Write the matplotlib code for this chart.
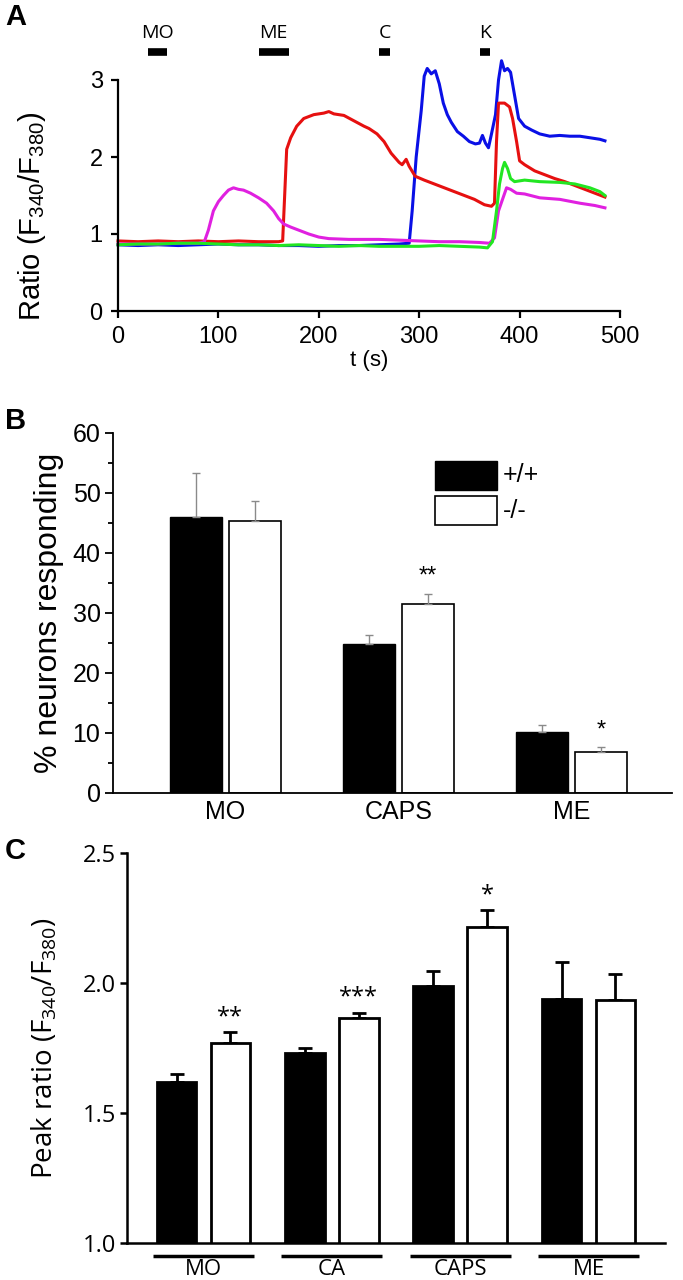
import matplotlib
matplotlib.use("Agg")
import matplotlib.pyplot as plt
from matplotlib.patches import Rectangle
import matplotlib.transforms as mtransforms
import numpy as np

# ---------------- Data ----------------
# Panel A: calcium imaging traces (time s, ratio)
red_t = [0, 20, 40, 60, 80, 100, 120, 140, 160, 164, 166, 168, 172, 178, 185, 195, 205, 210, 215, 225,
         235, 245, 250, 258, 265, 272, 280, 283, 287, 290, 296, 305, 315, 325, 335, 345, 355, 365, 372,
         375, 377, 379, 385, 390, 393, 397, 400, 405, 415, 425, 435, 445, 455, 465, 475, 485]
red_v = [0.91, 0.90, 0.91, 0.90, 0.91, 0.90, 0.91, 0.90, 0.90, 0.91, 1.5, 2.1, 2.25, 2.4, 2.5, 2.55, 2.57,
         2.59, 2.56, 2.54, 2.47, 2.4, 2.37, 2.3, 2.2, 2.05, 1.93, 1.9, 1.97, 1.88, 1.75, 1.7, 1.65, 1.6,
         1.55, 1.5, 1.45, 1.38, 1.36, 1.4, 2.2, 2.7, 2.7, 2.65, 2.5, 2.2, 1.95, 1.9, 1.82, 1.77, 1.72,
         1.68, 1.63, 1.58, 1.53, 1.48]

blue_t = [0, 20, 40, 60, 80, 100, 120, 140, 160, 180, 200, 220, 240, 260, 280, 290, 293, 297, 302, 305,
          308, 312, 316, 320, 324, 328, 332, 338, 344, 350, 356, 360, 363, 366, 369, 372, 376, 379, 382,
          385, 388, 391, 395, 399, 405, 412, 420, 430, 440, 450, 460, 470, 480, 485]
blue_v = [0.86, 0.85, 0.86, 0.85, 0.86, 0.87, 0.86, 0.86, 0.85, 0.85, 0.84, 0.85, 0.85, 0.86, 0.87, 0.88,
          1.3, 2.0, 2.6, 3.05, 3.15, 3.08, 3.12, 2.95, 2.7, 2.55, 2.45, 2.33, 2.27, 2.2, 2.17, 2.18, 2.28,
          2.18, 2.12, 2.3, 2.55, 3.0, 3.25, 3.12, 3.15, 3.1, 2.8, 2.5, 2.4, 2.35, 2.3, 2.27, 2.28, 2.27,
          2.27, 2.25, 2.23, 2.21]

mag_t = [0, 20, 40, 60, 80, 86, 90, 95, 100, 105, 110, 115, 120, 125, 132, 140, 148, 155, 160, 165, 172,
         180, 190, 200, 210, 230, 260, 280, 300, 320, 340, 360, 370, 375, 379, 383, 387, 391, 397, 405,
         420, 440, 460, 475, 485]
mag_v = [0.87, 0.87, 0.87, 0.88, 0.88, 0.9, 1.05, 1.3, 1.42, 1.5, 1.57, 1.6, 1.58, 1.57, 1.53, 1.47, 1.4,
         1.3, 1.2, 1.13, 1.09, 1.05, 1.0, 0.96, 0.94, 0.93, 0.93, 0.92, 0.91, 0.9, 0.9, 0.89, 0.88, 0.95,
         1.3, 1.45, 1.6, 1.58, 1.53, 1.52, 1.47, 1.45, 1.4, 1.37, 1.34]

green_t = [0, 20, 40, 60, 80, 100, 120, 140, 160, 180, 200, 220, 240, 260, 280, 300, 320, 340, 360, 368,
           373, 377, 380, 383, 385, 388, 391, 395, 405, 420, 440, 455, 470, 480, 485]
green_v = [0.86, 0.87, 0.87, 0.88, 0.88, 0.87, 0.86, 0.86, 0.85, 0.86, 0.85, 0.84, 0.85, 0.84, 0.84, 0.84,
           0.85, 0.84, 0.83, 0.82, 0.9, 1.3, 1.65, 1.85, 1.93, 1.85, 1.72, 1.68, 1.7, 1.68, 1.67, 1.65,
           1.6, 1.55, 1.5]

stim_labels = ["MO", "ME", "C", "K"]
stim_start = [30, 140, 260, 361]
stim_end = [49, 170, 271, 371]

# Panel B: % neurons responding
b_categories = ["MO", "CAPS", "ME"]
b_wt = [46.0, 24.8, 10.1]
b_wt_err = [7.3, 1.6, 1.3]
b_ko = [45.3, 31.5, 6.8]
b_ko_err = [3.4, 1.7, 0.8]
b_sig = ["", "**", "*"]

# Panel C: peak ratio
c_categories = ["MO", "CA", "CAPS", "ME"]
c_wt = [1.62, 1.73, 1.99, 1.94]
c_wt_err = [0.03, 0.02, 0.055, 0.14]
c_ko = [1.77, 1.865, 2.215, 1.935]
c_ko_err = [0.04, 0.02, 0.065, 0.10]
c_sig = ["**", "***", "*", ""]

# ---------------- Fonts ----------------
ARIAL = "Liberation Sans"
CALI = "Open Sans"

# ---------------- Figure ----------------
W, H = 683, 1280
fig = plt.figure(figsize=(W / 100, H / 100), dpi=100)


def px_axes(left, right, top, bottom):
    return fig.add_axes([left / W, 1 - bottom / H, (right - left) / W, (bottom - top) / H])


# ---------- Panel A ----------
axA = px_axes(118, 620, 80, 311)
for t, v, c in [(blue_t, blue_v, "#0a10e6"), (red_t, red_v, "#e61010"),
                (mag_t, mag_v, "#e020e0"), (green_t, green_v, "#22e622")]:
    axA.plot(t, v, color=c, lw=2.2, clip_on=False)
axA.set_xlim(0, 500)
axA.set_ylim(0, 3)
axA.set_xticks([0, 100, 200, 300, 400, 500])
axA.set_yticks([0, 1, 2, 3])
for s in ["top", "right"]:
    axA.spines[s].set_visible(False)
for s in ["left", "bottom"]:
    axA.spines[s].set_linewidth(1.6)
axA.tick_params(direction="out", length=5, width=1.6, labelsize=17, pad=6)
for lab in axA.get_xticklabels() + axA.get_yticklabels():
    lab.set_fontfamily(ARIAL)
axA.set_xlabel("t (s)", fontsize=16, family=ARIAL, labelpad=1)
axA.set_ylabel(r"Ratio (F$\mathregular{_{340}}$/F$\mathregular{_{380}}$)", fontsize=21,
               family=ARIAL)
axA.yaxis.set_label_coords(-0.14, 0.41)
trA = mtransforms.blended_transform_factory(axA.transData, axA.transAxes)
for lab, s, e in zip(stim_labels, stim_start, stim_end):
    axA.plot([s, e], [1.121, 1.121], color="black", lw=5.5, solid_capstyle="butt",
             transform=trA, clip_on=False)
    axA.text((s + e) / 2, 1.205, lab, transform=trA, ha="center", va="center",
             fontsize=14, family=CALI)
fig.text(5 / W, 1 - 17 / H, "A", fontsize=21, fontweight="bold", family=ARIAL, va="center")

# ---------- Panel B ----------
axB = px_axes(113, 672, 433, 793)
xb = np.arange(len(b_categories)) + 1
bw = 0.30
off = 0.17
axB.bar(xb - off, b_wt, width=bw, color="black", edgecolor="black", lw=1)
axB.bar(xb + off, b_ko, width=bw, color="white", edgecolor="black", lw=1.2)
axB.errorbar(xb - off, b_wt, yerr=[np.zeros(3), b_wt_err], fmt="none", ecolor="#8a8a8a",
             elinewidth=1, capsize=3, capthick=1)
axB.errorbar(xb + off, b_ko, yerr=[np.zeros(3), b_ko_err], fmt="none", ecolor="#8a8a8a",
             elinewidth=1, capsize=3, capthick=1)
for x, v, e, s in zip(xb + off, b_ko, b_ko_err, b_sig):
    if s:
        axB.text(x, v + e + 1.0, s, ha="center", va="bottom", fontsize=17, family=ARIAL)
axB.set_xlim(0.353, 3.578)
axB.set_ylim(0, 60)
axB.set_yticks(np.arange(0, 61, 10))
axB.set_yticks(np.arange(5, 60, 10), minor=True)
axB.set_xticks(xb)
axB.set_xticklabels(b_categories)
for s in ["top", "right"]:
    axB.spines[s].set_visible(False)
for s in ["left", "bottom"]:
    axB.spines[s].set_linewidth(1.3)
axB.tick_params(axis="y", which="major", direction="out", length=6, width=1.3, labelsize=18, pad=3)
axB.tick_params(axis="y", which="minor", direction="out", length=3.5, width=1.3)
axB.tick_params(axis="x", length=0, labelsize=18, pad=5)
for lab in axB.get_xticklabels() + axB.get_yticklabels():
    lab.set_fontfamily(ARIAL)
axB.set_ylabel("% neurons responding", fontsize=23, family=ARIAL, labelpad=6)
# legend (drawn manually)
axB.add_patch(Rectangle(((435 - 113) / 559, (793 - 490) / 360), 62 / 559, 29 / 360,
                        transform=axB.transAxes, facecolor="black", edgecolor="black", lw=1))
axB.add_patch(Rectangle(((435 - 113) / 559, (793 - 525) / 360), 62 / 559, 29 / 360,
                        transform=axB.transAxes, facecolor="white", edgecolor="black", lw=1.2))
axB.text((503 - 113) / 559, (793 - 475) / 360, "+/+", transform=axB.transAxes, va="center",
         fontsize=18, family=ARIAL)
axB.text((503 - 113) / 559, (793 - 511) / 360, "-/-", transform=axB.transAxes, va="center",
         fontsize=18, family=ARIAL)
fig.text(5 / W, 1 - 421 / H, "B", fontsize=21, fontweight="bold", family=ARIAL, va="center")

# ---------- Panel C ----------
axC = px_axes(127, 665, 853, 1243)
xc = np.arange(len(c_categories)) + 1
cw = 0.31
coff = 0.21
axC.errorbar(xc - coff, c_wt, yerr=[np.zeros(4), c_wt_err], fmt="none", ecolor="black",
             elinewidth=2, capsize=5, capthick=2, zorder=1)
axC.errorbar(xc + coff, c_ko, yerr=[np.zeros(4), c_ko_err], fmt="none", ecolor="black",
             elinewidth=2, capsize=5, capthick=2, zorder=1)
axC.bar(xc - coff, c_wt, width=cw, bottom=0, color="black", edgecolor="black", lw=2, zorder=2)
axC.bar(xc + coff, c_ko, width=cw, bottom=0, color="white", edgecolor="black", lw=2, zorder=2)
for x, v, e, s in zip(xc + coff, c_ko, c_ko_err, c_sig):
    if s:
        axC.text(x, v + e + 0.012, s, ha="center", va="bottom", fontsize=17, family=CALI)
axC.set_xlim(0.404, 4.596)
axC.set_ylim(1.0, 2.5)
axC.set_yticks([1.0, 1.5, 2.0, 2.5])
axC.set_yticklabels(["1.0", "1.5", "2.0", "2.5"])
axC.set_xticks([])
for s in ["top", "right"]:
    axC.spines[s].set_visible(False)
for s in ["left", "bottom"]:
    axC.spines[s].set_linewidth(1.8)
axC.tick_params(axis="y", direction="out", length=5, width=1.8, labelsize=17, pad=3)
for lab in axC.get_yticklabels():
    lab.set_fontfamily(CALI)
axC.set_ylabel(r"Peak ratio (F$\mathregular{_{340}}$/F$\mathregular{_{380}}$)", fontsize=20,
               family=CALI)
axC.yaxis.set_label_coords(-0.125, 0.5)
trC = mtransforms.blended_transform_factory(axC.transData, axC.transAxes)
for x, lab in zip(xc, c_categories):
    axC.plot([x - 0.393, x + 0.393], [-0.034, -0.034], color="black", lw=2.5,
             transform=trC, clip_on=False, solid_capstyle="butt")
    axC.text(x, -0.068, lab, transform=trC, ha="center", va="center", fontsize=16, family=CALI)
fig.text(5 / W, 1 - 851 / H, "C", fontsize=21, fontweight="bold", family=ARIAL, va="center")

fig.savefig("out.png", dpi=100)
